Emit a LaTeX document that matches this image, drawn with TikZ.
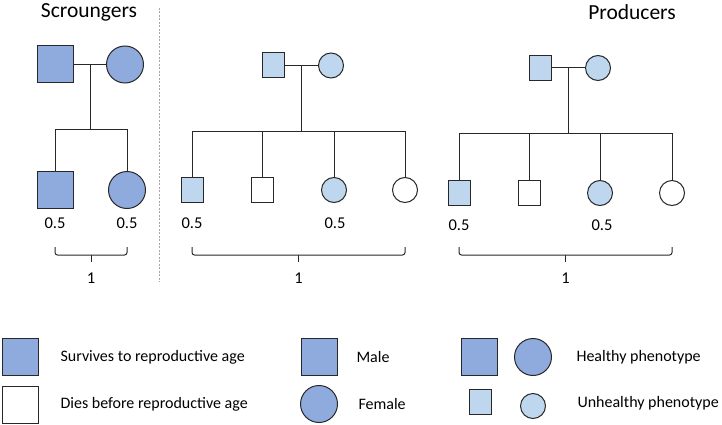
\documentclass[tikz,border=0pt]{standalone}
\usepackage{fontspec}
\setmainfont{Carlito}
\usetikzlibrary{positioning,calc}
\definecolor{healthy}{RGB}{143,170,220}
\definecolor{unhealthy}{RGB}{190,215,238}
\definecolor{edgegray}{RGB}{40,40,40}
\tikzset{
  indiv/.style={draw=edgegray, line width=1pt, inner sep=0pt},
  bigmale/.style={indiv, rectangle, minimum width=36pt, minimum height=37pt, fill=healthy},
  bigfemale/.style={indiv, circle, minimum size=37pt, fill=healthy},
  smallmale/.style={indiv, rectangle, minimum width=22pt, minimum height=25pt},
  smallfemale/.style={indiv, circle, minimum size=25pt},
  sick/.style={fill=unhealthy},
  dead/.style={fill=white},
  link/.style={line width=1pt, edgegray},
  sibbrace/.style={line width=1pt, edgegray, rounded corners=2.5pt},
  share/.style={font=\fontsize{16.5}{18}\selectfont},
  title/.style={font=\fontsize{21.5}{24}\selectfont},
  legtext/.style={anchor=west, font=\fontsize{16}{18}\selectfont},
}
% flat brace under a sibship: #1 left x, #2 right x, #3 name of the sum label
\newcommand{\sumbrace}[3]{%
  \draw[sibbrace] (#1,247) -- (#1,255) -- ({(#1+#2)/2},255) -- (#2,255) -- (#2,247);
  \draw[link] ({(#1+#2)/2},255) -- ({(#1+#2)/2},262);
  \node[share] (#3) at ({(#1+#2)/2},278) {1};
}
\begin{document}
\begin{tikzpicture}[x=1pt, y=-1pt]
  \useasboundingbox (0,0) rectangle (722,425);

  % titles and divider
  \node[title] (ttlS) at (89,12) {Scroungers};
  \node[title] (ttlP) at (632,12) {Producers};
  \draw[gray!70, line width=0.7pt, dash pattern=on 2pt off 1.5pt] (159,8) -- (159,282);

  % scroungers
  \node[bigmale] (sF) at (55.5,64.5) {};
  \node[bigfemale] (sM) at (125,64.5) {};
  \node[bigmale] (sC1) at (55.5,189.5) {};
  \node[bigfemale] (sC2) at (127,190) {};
  \coordinate (sJ) at ($(sF.east)!0.5!(sM.west)$);
  \coordinate (sSib) at ($(sJ)+(0,65)$);
  \draw[link] (sF) -- (sM);
  \draw[link] (sJ) -- (sSib);
  \draw[link] (sC1.north) -- (sC1.north |- sSib) -- (sC2.north |- sSib) -- (sC2.north);
  \node[share] (sL1) at (55,223) {0.5};
  \node[share] (sL2) at (127,223) {0.5};
  \sumbrace{55}{127}{sSum}

  % producers, left family
  \node[smallmale, sick] (aF) at (273,65.5) {};
  \node[smallfemale, sick] (aM) at (331,65.5) {};
  \coordinate (aJ) at ($(aF.east)!0.5!(aM.west)$);
  \coordinate (aSib) at ($(aJ)+(0,65.5)$);
  \node[smallmale, sick] (aC1) at (192,190) {};
  \node[smallmale, dead] (aC2) at (262,190) {};
  \node[smallfemale, sick] (aC3) at (334,190) {};
  \node[smallfemale, dead] (aC4) at (405,190) {};
  \draw[link] (aF) -- (aM);
  \draw[link] (aJ) -- (aSib);
  \draw[link] (aC1.north) -- (aC1.north |- aSib) -- (aC4.north |- aSib) -- (aC4.north);
  \foreach \k in {2,3}
    \draw[link] (aC\k.north) -- (aC\k.north |- aSib);
  \node[share] (aL1) at (192,223) {0.5};
  \node[share] (aL3) at (335,223) {0.5};
  \sumbrace{192}{405}{aSum}

  % producers, right family
  \node[smallmale, sick] (bF) at (540,68) {};
  \node[smallfemale, sick] (bM) at (598,68) {};
  \coordinate (bJ) at ($(bF.east)!0.5!(bM.west)$);
  \coordinate (bSib) at ($(bJ)+(0,65)$);
  \node[smallmale, sick] (bC1) at (459,193) {};
  \node[smallmale, dead] (bC2) at (529,193) {};
  \node[smallfemale, sick] (bC3) at (600,193) {};
  \node[smallfemale, dead] (bC4) at (672,193) {};
  \draw[link] (bF) -- (bM);
  \draw[link] (bJ) -- (bSib);
  \draw[link] (bC1.north) -- (bC1.north |- bSib) -- (bC4.north |- bSib) -- (bC4.north);
  \foreach \k in {2,3}
    \draw[link] (bC\k.north) -- (bC\k.north |- bSib);
  \node[share] (bL1) at (459,225) {0.5};
  \node[share] (bL3) at (602,225) {0.5};
  \sumbrace{459}{672}{bSum}

  % legend
  \node[bigmale] (kSurv) at (20.5,356.5) {};
  \node[bigmale, dead] (kDies) at (20.5,404.5) {};
  \node[legtext] at (57,357) {Survives to reproductive age};
  \node[legtext] at (57,404) {Dies before reproductive age};
  \node[bigmale] (kMale) at (319.5,356.5) {};
  \node[bigfemale] (kFemale) at (319,404) {};
  \node[legtext] at (353,357) {Male};
  \node[legtext] at (355,404) {Female};
  \node[bigmale] (kHm) at (479,356.5) {};
  \node[bigfemale] (kHf) at (533,357) {};
  \node[smallmale, sick] (kUm) at (480,401.5) {};
  \node[smallfemale, sick] (kUf) at (533,406) {};
  \node[legtext] at (573,357) {Healthy phenotype};
  \node[legtext] at (574,403) {Unhealthy phenotype};
\end{tikzpicture}
\end{document}
